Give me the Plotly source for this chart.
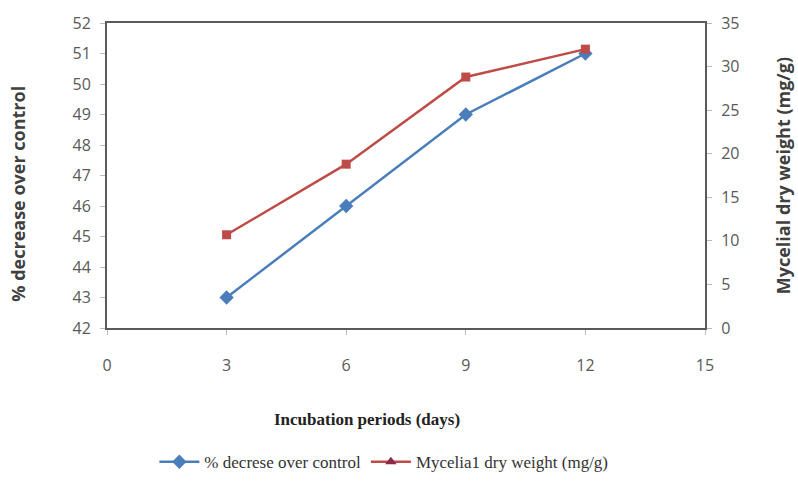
import plotly.graph_objects as go

days = [3, 6, 9, 12]
pct_decrease = [43, 46, 49, 51]
mycelial_dry_weight = [10.7, 18.8, 28.8, 32.0]

x_ticks = [0, 3, 6, 9, 12, 15]
left_ticks = list(range(42, 53))
right_ticks = list(range(0, 36, 5))

BLUE = "#4A7EBB"
RED = "#BE4B48"
AXIS = "#5A5A5A"
TICKF = dict(family="Open Sans, Liberation Sans, sans-serif", size=16, color="#595959")

fig = go.Figure()
fig.add_trace(go.Scatter(
    x=days, y=pct_decrease, mode="lines+markers", name="% decrese over control",
    line=dict(color=BLUE, width=2.5), marker=dict(symbol="diamond", size=11, color=BLUE),
    yaxis="y"))
fig.add_trace(go.Scatter(
    x=days, y=mycelial_dry_weight, mode="lines+markers", name="Mycelia1 dry weight (mg/g)",
    line=dict(color=RED, width=2.5), marker=dict(symbol="square", size=9, color=RED),
    yaxis="y2", showlegend=False))
# legend entry (triangle marker as in the reference legend)
fig.add_trace(go.Scatter(
    x=[None], y=[None], mode="lines+markers", name="Mycelia1 dry weight (mg/g)",
    line=dict(color=RED, width=2.5), marker=dict(symbol="triangle-up", size=10, color="#8E2A4E"),
    yaxis="y2"))

fig.update_layout(
    width=798, height=494,
    margin=dict(l=107, r=93, t=18, b=166),
    plot_bgcolor="white", paper_bgcolor="white",
    showlegend=True,
    legend=dict(orientation="h", x=0.463, xanchor="center", y=-0.44, yanchor="middle",
                font=dict(family="Liberation Serif, Times New Roman, serif", size=17, color="#333"),
                itemwidth=40, tracegroupgap=0),
    xaxis=dict(range=[0, 15], tickvals=x_ticks, showline=True, linecolor=AXIS, linewidth=2,
               mirror=True, ticks="outside", ticklen=5, tickcolor="#BBBBBB",
               ticklabelstandoff=17, tickfont=TICKF, showgrid=False, zeroline=False),
    yaxis=dict(range=[42, 52], tickvals=left_ticks, showline=True, linecolor=AXIS, linewidth=2,
               ticks="outside", ticklen=5, tickcolor="#BBBBBB", tickfont=TICKF,
               ticklabelstandoff=6, showgrid=False, zeroline=False),
    yaxis2=dict(range=[0, 35], tickvals=right_ticks, overlaying="y", side="right",
                showline=True, linecolor=AXIS, linewidth=2, ticks="outside", ticklen=5,
                tickcolor="#BBBBBB", tickfont=TICKF, ticklabelstandoff=6,
                showgrid=False, zeroline=False),
    annotations=[
        dict(text="<b>Incubation periods (days)</b>", xref="paper", yref="paper",
             x=0.435, y=-0.3, xanchor="center", yanchor="middle", showarrow=False,
             font=dict(family="Liberation Serif, Times New Roman, serif", size=17, color="#222")),
        dict(text="<b>% decrease over control</b>", xref="paper", yref="paper",
             x=-0.149, xanchor="center", y=0.44, yanchor="middle", textangle=-90, showarrow=False,
             font=dict(family="Open Sans, Liberation Sans, sans-serif", size=18, color="#404040")),
        dict(text="<b>Mycelial dry weight (mg/g)</b>", xref="paper", yref="paper",
             x=1.13, xanchor="center", y=0.5, yanchor="middle", textangle=-90, showarrow=False,
             font=dict(family="Open Sans, Liberation Sans, sans-serif", size=18, color="#404040")),
    ],
)

fig.write_html("out.html")
